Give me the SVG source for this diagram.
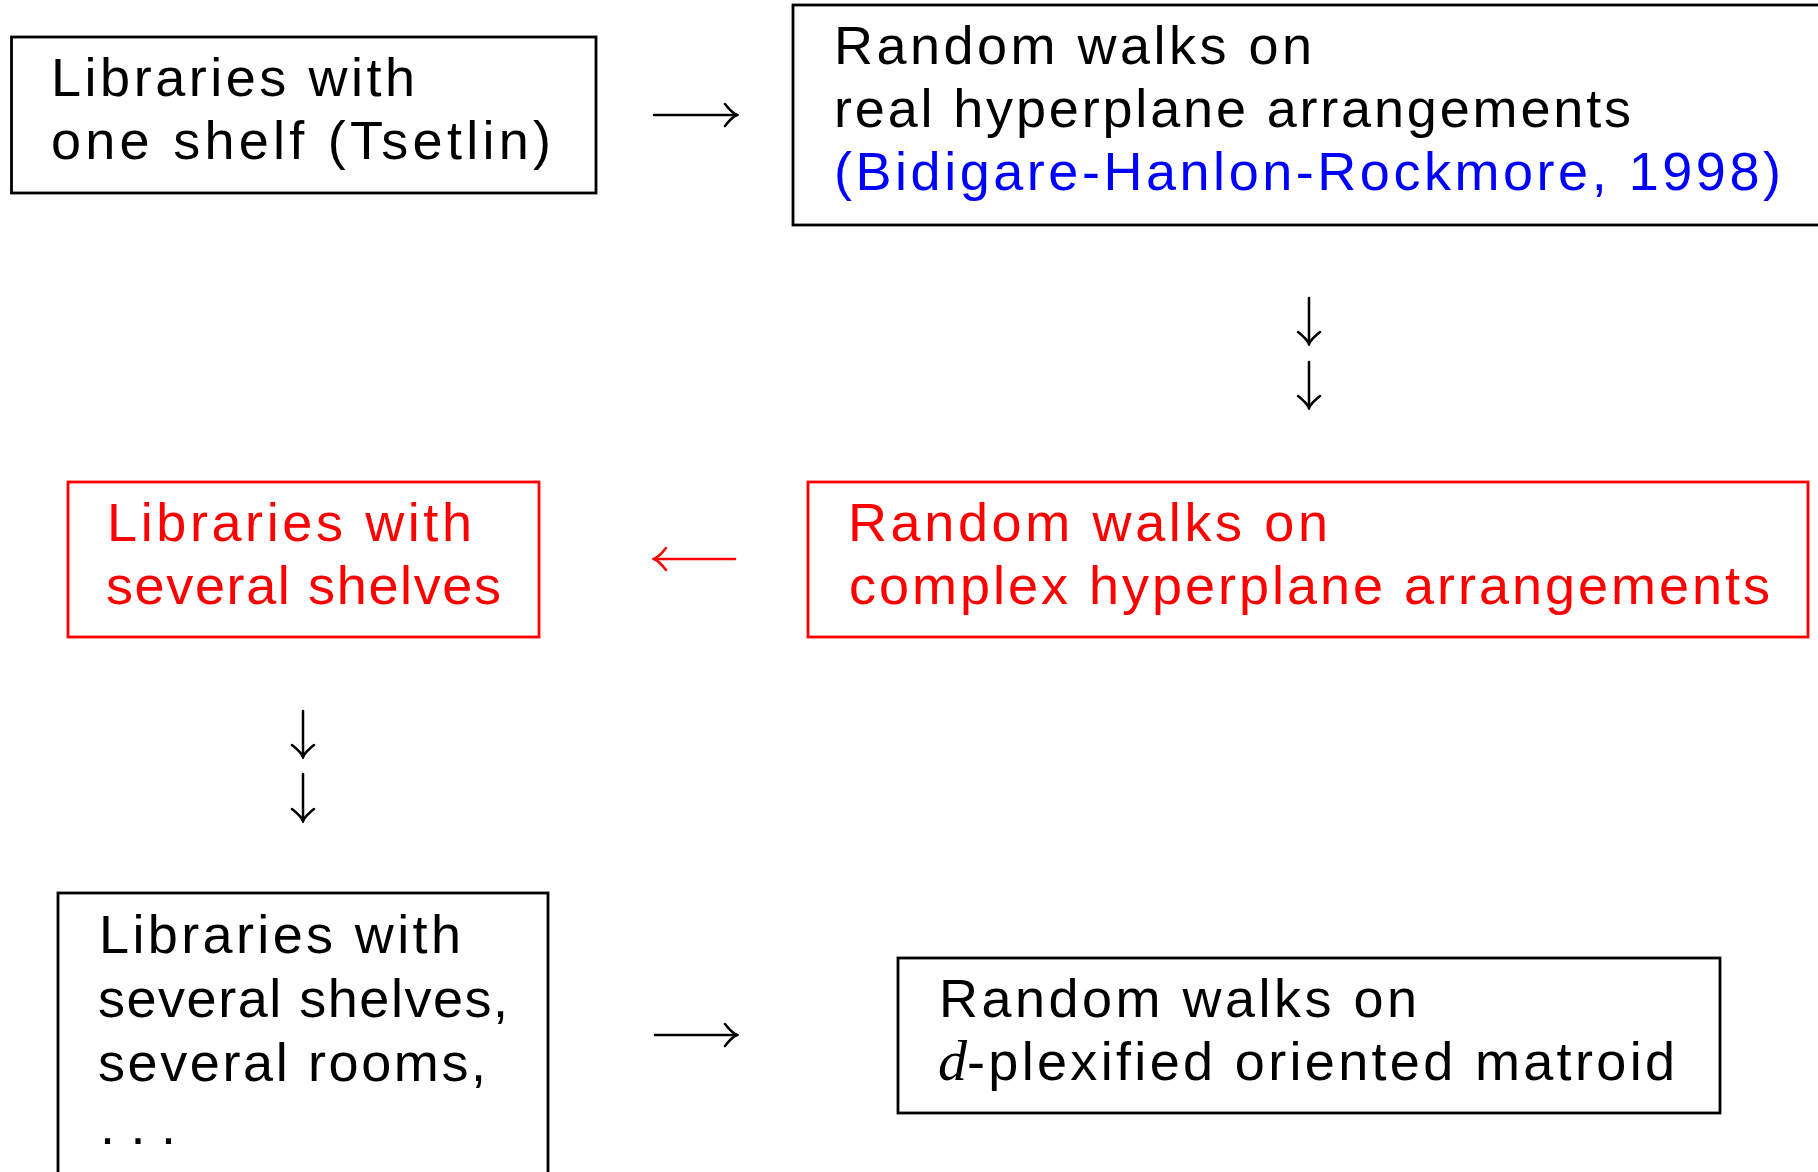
<svg xmlns="http://www.w3.org/2000/svg" width="1818" height="1172" viewBox="0 0 1818 1172">
<style>
.box{fill:none;stroke-width:2.8}
.blk{stroke:#000}
.red{stroke:#ff0000}
.t{font-family:"Liberation Sans",Arial,sans-serif;font-size:54px}
.tb{fill:#000}
.tr{fill:#ff0000}
.tbl{fill:#0000ff}
.arr{fill:none;stroke-width:2.5;stroke-linecap:round;stroke-linejoin:round}
.m{font-family:"Liberation Serif","Times New Roman",serif;font-style:italic;font-size:58px}
</style>
<defs>
<marker id="headK" viewBox="-14 -13 16 26" refX="0" refY="0" markerWidth="16" markerHeight="26" markerUnits="userSpaceOnUse" orient="auto">
<path d="M-12,-11 Q-5,-2 0,0 Q-5,2 -12,11" fill="none" stroke="#000" stroke-width="2.5" stroke-linecap="round"/>
</marker>
<marker id="headR" viewBox="-14 -13 16 26" refX="0" refY="0" markerWidth="16" markerHeight="26" markerUnits="userSpaceOnUse" orient="auto">
<path d="M-12,-11 Q-5,-2 0,0 Q-5,2 -12,11" fill="none" stroke="#ff0000" stroke-width="2.5" stroke-linecap="round"/>
</marker>
</defs>
<rect width="1818" height="1172" fill="#fff"/>

<g id="node-one-shelf">
<rect class="box blk" x="11.5" y="37" width="584.5" height="156"/>
<text class="t tb" x="51" y="96" textLength="364">Libraries with</text>
<text class="t tb" x="51" y="159" textLength="500">one shelf (Tsetlin)</text>
</g>

<g id="node-real-hyperplane">
<rect class="box blk" x="793" y="5" width="1045" height="220"/>
<text class="t tb" x="834" y="64" textLength="478">Random walks on</text>
<text class="t tb" x="834" y="127" textLength="797">real hyperplane arrangements</text>
<text class="t tbl" x="834" y="190" textLength="947">(Bidigare-Hanlon-Rockmore, 1998)</text>
</g>

<g id="node-several-shelves">
<rect class="box red" x="68" y="482" width="471" height="155"/>
<text class="t tr" x="107" y="541" textLength="365">Libraries with</text>
<text class="t tr" x="106" y="604" textLength="395">several shelves</text>
</g>

<g id="node-complex-hyperplane">
<rect class="box red" x="808" y="482" width="1000" height="155"/>
<text class="t tr" x="848" y="541" textLength="480">Random walks on</text>
<text class="t tr" x="849" y="604" textLength="921">complex hyperplane arrangements</text>
</g>

<g id="node-several-rooms">
<rect class="box blk" x="58" y="893" width="490" height="300"/>
<text class="t tb" x="99" y="953" textLength="362">Libraries with</text>
<text class="t tb" x="98" y="1017" textLength="410">several shelves,</text>
<text class="t tb" x="98" y="1081" textLength="388">several rooms,</text>
<text class="t tb" x="100" y="1144" textLength="76">. . .</text>
</g>

<g id="node-oriented-matroid">
<rect class="box blk" x="898" y="958" width="822" height="155"/>
<text class="t tb" x="939" y="1017" textLength="478">Random walks on</text>
<text class="t tb" x="938" y="1080"><tspan class="m">d</tspan><tspan textLength="708">-plexified oriented matroid</tspan></text>
</g>

<g id="connectors">
<path class="arr" stroke="#000" d="M654,115 H737" marker-end="url(#headK)"/>
<path class="arr" stroke="#ff0000" d="M735,559 H654" marker-end="url(#headR)"/>
<path class="arr" stroke="#000" d="M655,1035 H737" marker-end="url(#headK)"/>
<path class="arr" stroke="#000" d="M1309,298 V344" marker-end="url(#headK)"/>
<path class="arr" stroke="#000" d="M1309,362 V408" marker-end="url(#headK)"/>
<path class="arr" stroke="#000" d="M303,711 V757" marker-end="url(#headK)"/>
<path class="arr" stroke="#000" d="M303,774 V821" marker-end="url(#headK)"/>
</g>
</svg>
